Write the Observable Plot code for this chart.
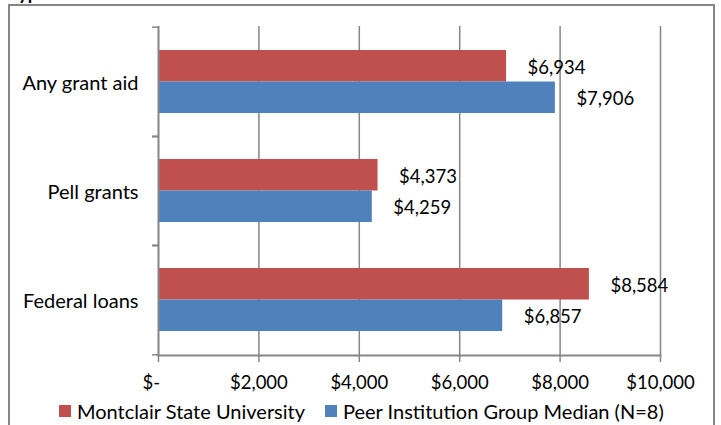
<!DOCTYPE html>
<html>
<head>
<meta charset="utf-8">
<script src="https://cdn.jsdelivr.net/npm/d3@7"></script>
<script src="https://cdn.jsdelivr.net/npm/@observablehq/plot@0.6"></script>
<style>
  html, body { margin: 0; padding: 0; background: #fff; }
  #wrap { position: relative; width: 721px; height: 425px; overflow: hidden; font-family: Lato, "Open Sans", sans-serif; }
  #box { position: absolute; left: 8px; top: 4px; width: 707px; height: 440px; border: 2px solid #868686; box-sizing: border-box; }
  #title { position: absolute; left: 9px; top: -18px; font-weight: bold; font-size: 18px; line-height: 22px; color: #000; white-space: nowrap; }
  #chart { position: absolute; left: 0; top: 0; }
  .sw { position: absolute; width: 12px; height: 12px; top: 405px; }
  .lt { position: absolute; top: 400px; font-size: 20px; line-height: 22px; color: #000; white-space: nowrap; }
</style>
</head>
<body>
<div id="wrap">
  <div id="box"></div>
  <div id="title">Type</div>
  <div id="chart"></div>
  <div id="legend"></div>
</div>
<script>
const categories = ["Any grant aid", "Pell grants", "Federal loans"];
const seriesNames = ["Montclair State University", "Peer Institution Group Median (N=8)"];
const montclair = [6934, 4373, 8584];
const peer = [7906, 4259, 6857];
const xTicks = [0, 2000, 4000, 6000, 8000, 10000];
const colors = ["#C0504D", "#4F81BD"];

const rowsM = categories.map((c, i) => ({category: c, series: seriesNames[0], value: montclair[i]}));
const rowsP = categories.map((c, i) => ({category: c, series: seriesNames[1], value: peer[i]}));

const money = d => d === 0 ? "$-\u00a0\u00a0\u00a0" : "$" + d3.format(",")(d);

const gray = "#868686";
const plotTop = 26, plotBottom = 355, svgH = 395;
const step = (plotBottom - plotTop) / categories.length;
const pad = 0.4255;
const bw = step * (1 - pad);

const chart = Plot.plot({
  width: 721,
  height: svgH,
  marginLeft: 158,
  marginRight: 61,
  marginTop: plotTop,
  marginBottom: svgH - plotBottom,
  style: {fontFamily: "Lato, 'Open Sans', sans-serif", fontSize: "18px", color: "#000", background: "transparent", overflow: "visible"},
  x: {domain: [0, 10000], axis: null},
  y: {domain: categories, paddingInner: pad, paddingOuter: pad / 2, axis: null},
  marks: [
    Plot.ruleX(xTicks.filter(d => d > 0), {stroke: gray, strokeWidth: 1.5}),
    Plot.barX(rowsM, {x: "value", y: "category", fill: colors[0], insetBottom: bw / 2}),
    Plot.barX(rowsP, {x: "value", y: "category", fill: colors[1], insetTop: bw / 2}),
    Plot.ruleX([0], {stroke: gray, strokeWidth: 2}),
    Plot.frame({anchor: "bottom", stroke: gray, strokeWidth: 2}),
    Plot.axisX({ticks: xTicks, tickSize: 7, tickPadding: 13, tickFormat: money, label: null, stroke: gray, strokeWidth: 1.5, strokeOpacity: 1, fill: "#000", fontSize: 18.5}),
    Plot.axisY({tickSize: 6, tickFormat: () => "", label: null, dy: -step / 2, stroke: gray, strokeWidth: 1.5, strokeOpacity: 1}),
    Plot.axisY({tickSize: 6, tickFormat: () => "", label: null, dy: step / 2, stroke: gray, strokeWidth: 1.5, strokeOpacity: 1}),
    Plot.axisY({tickSize: 0, tickPadding: 20, label: null, dy: 1.5, fill: "#000", fontSize: 20}),
    Plot.text(rowsM, {x: "value", y: "category", text: d => money(d.value), dx: 21, dy: -bw / 4 + 1.5, textAnchor: "start", fill: "#000", fontSize: 18.5}),
    Plot.text(rowsP, {x: "value", y: "category", text: d => money(d.value), dx: 21, dy: bw / 4 + 1, textAnchor: "start", fill: "#000", fontSize: 18.5})
  ]
});
document.getElementById("chart").appendChild(chart);

const legend = document.getElementById("legend");
const legendPos = [{sw: 59, tx: 77}, {sw: 325, tx: 343}];
seriesNames.forEach((name, i) => {
  const s = document.createElement("div");
  s.className = "sw";
  s.style.left = legendPos[i].sw + "px";
  s.style.background = colors[i];
  legend.appendChild(s);
  const t = document.createElement("div");
  t.className = "lt";
  t.style.left = legendPos[i].tx + "px";
  t.textContent = name;
  legend.appendChild(t);
});
</script>
</body>
</html>
